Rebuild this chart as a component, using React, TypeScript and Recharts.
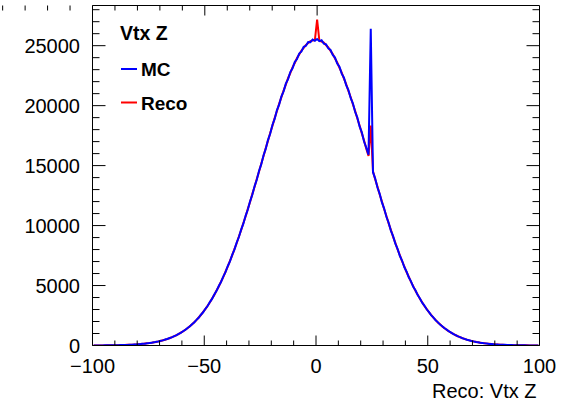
import { LineChart, Line, XAxis, YAxis, Legend } from 'recharts'

// histogram binning: 200 bins of width 1 from -100 to 100
const BIN_LOW = -100
const BIN_WIDTH = 1

// MC: Vtx Z counts per bin (left edge -100 ... 99)
const mcCounts = [
  4, 7, 5, 9, 8, 11, 12, 16, 17, 22,
  25, 27, 35, 37, 46, 50, 62, 67, 81, 89,
  108, 117, 141, 155, 184, 201, 237, 262, 306, 335,
  390, 427, 495, 541, 622, 681, 776, 849, 966, 1051,
  1191, 1295, 1458, 1583, 1771, 1920, 2140, 2315, 2568, 2770,
  3058, 3290, 3620, 3885, 4251, 4553, 4960, 5296, 5745, 6118,
  6610, 7019, 7556, 7994, 8571, 9046, 9662, 10160, 10815, 11339,
  12021, 12565, 13270, 13825, 14548, 15102, 15840, 16390, 17125, 17660,
  18390, 18895, 19610, 20080, 20760, 21190, 21835, 22210, 22800, 23115,
  23640, 23890, 24350, 24520, 24910, 24990, 25300, 25280, 25520, 25410,
  25560, 25380, 25450, 25170, 25110, 24770, 24640, 24220, 24010, 23510,
  23240, 22670, 22330, 21710, 21300, 20640, 20190, 19490, 19010, 18270,
  17770, 17010, 16490, 15900, 26400, 14450, 13920, 13170, 12650, 11930,
  11420, 10730, 10240, 9580, 9120, 8495, 8060, 7480, 7085, 6545,
  6170, 5690, 5345, 4905, 4600, 4200, 3925, 3575, 3330, 3020,
  2800, 2535, 2345, 2110, 1950, 1745, 1608, 1432, 1318, 1170,
  1070, 946, 866, 760, 695, 607, 555, 480, 438, 379,
  344, 296, 269, 229, 208, 177, 161, 135, 122, 103,
  93, 77, 70, 58, 53, 44, 39, 32, 29, 23,
  20, 19, 14, 13, 10, 10, 7, 7, 5, 6,
]

// Reco: Vtx Z counts per bin
const recoCounts = [
  6, 5, 7, 7, 9, 9, 14, 14, 18, 20,
  23, 29, 32, 39, 44, 53, 59, 70, 78, 92,
  103, 122, 136, 160, 178, 208, 230, 268, 297, 344,
  380, 438, 482, 553, 609, 694, 763, 865, 950, 1070,
  1172, 1312, 1440, 1601, 1750, 1940, 2115, 2335, 2542, 2795,
  3030, 3318, 3590, 3912, 4220, 4580, 4925, 5330, 5705, 6150,
  6570, 7055, 7510, 8035, 8525, 9090, 9610, 10210, 10760, 11390,
  11965, 12620, 13210, 13880, 14490, 15160, 15775, 16450, 17060, 17725,
  18315, 18960, 19530, 20150, 20685, 21260, 21750, 22285, 22715, 23190,
  23560, 23970, 24270, 24600, 24820, 25070, 25215, 25380, 25435, 25470,
  27170, 25430, 25340, 25250, 25040, 24850, 24560, 24300, 23930, 23595,
  23150, 22750, 22250, 21790, 21230, 20720, 20115, 19565, 18930, 18350,
  17690, 17090, 16415, 15810, 18330, 14520, 13845, 13245, 12585, 12000,
  11355, 10795, 10180, 9645, 9060, 8555, 8005, 7540, 7030, 6595,
  6125, 5735, 5300, 4950, 4560, 4240, 3890, 3610, 3295, 3050,
  2775, 2560, 2320, 2135, 1925, 1765, 1588, 1452, 1300, 1185,
  1055, 962, 852, 775, 682, 620, 542, 493, 428, 388,
  336, 304, 262, 236, 202, 183, 156, 140, 118, 107,
  89, 80, 68, 61, 51, 46, 37, 34, 27, 25,
  21, 17, 16, 12, 11, 8, 8, 6, 6, 4,
]

const xTicks = [-100, -90, -80, -70, -60, -50, -40, -30, -20, -10, 0, 10, 20, 30, 40, 50, 60, 70, 80, 90, 100]
const xMajor = [-100, -50, 0, 50, 100]
const yTicks = [
  0, 1000, 2000, 3000, 4000, 5000, 6000, 7000, 8000, 9000, 10000,
  11000, 12000, 13000, 14000, 15000, 16000, 17000, 18000, 19000, 20000,
  21000, 22000, 23000, 24000, 25000, 26000, 27000, 28000,
]
const yMajor = [0, 5000, 10000, 15000, 20000, 25000]

const FONT = '"Liberation Sans", Arial, Helvetica, sans-serif'
const FRAME = '#000'

// one point per bin, placed at the bin centre
const rows = mcCounts.map((mc, i) => ({
  x: BIN_LOW + (i + 0.5) * BIN_WIDTH,
  mc,
  reco: recoCounts[i],
}))

const fmt = (v: number) => (v < 0 ? '\u2212' + Math.abs(v) : String(v))

function BottomTick({ x, y, payload }: any) {
  const major = xMajor.includes(payload.value)
  return (
    <g>
      <line x1={x} x2={x} y1={y} y2={y - (major ? 10 : 5)} stroke={FRAME} />
      {major && (
        <text x={x} y={y + 27.5} textAnchor="middle" fontSize={20} fontFamily={FONT} fill="#000">
          {fmt(payload.value)}
        </text>
      )}
    </g>
  )
}

function TopTick({ x, y, payload }: any) {
  const major = xMajor.includes(payload.value)
  return <line x1={x} x2={x} y1={y} y2={y + (major ? 10 : 5)} stroke={FRAME} />
}

function LeftTick({ x, y, payload }: any) {
  const major = yMajor.includes(payload.value)
  return (
    <g>
      <line x1={x} x2={x + (major ? 13 : 7)} y1={y} y2={y} stroke={FRAME} />
      {major && (
        <text x={x - 12.5} y={y + 7} textAnchor="end" fontSize={20} fontFamily={FONT} fill="#000">
          {payload.value}
        </text>
      )}
    </g>
  )
}

function RightTick({ x, y, payload }: any) {
  const major = yMajor.includes(payload.value)
  return <line x1={x} x2={x - (major ? 13 : 7)} y1={y} y2={y} stroke={FRAME} />
}

function HistLegend({ payload }: any) {
  const order = ['MC', 'Reco']
  const items = order.map(n => (payload || []).find((p: any) => p.value === n)).filter(Boolean)
  return (
    <svg width={200} height={120} style={{ display: 'block' }}>
      <text x={120} y={40} fontSize={19.5} fontWeight="bold" fontFamily={FONT} fill="#000">Vtx Z</text>
      {items.map((p: any, i: number) => {
        const cy = 69 + i * 33.5
        return (
          <g key={p.value}>
            <line x1={121} x2={137} y1={cy} y2={cy} stroke={p.color} strokeWidth={2} />
            <text x={141} y={cy + 7} fontSize={19} fontWeight="bold" fontFamily={FONT} fill="#000">
              {p.value}
            </text>
          </g>
        )
      })}
    </svg>
  )
}

export default function App() {
  return (
    <div style={{ width: 571, height: 403, background: '#fff' }}>
      <style>{'body{margin:0;background:#fff}'}</style>
      <LineChart width={571} height={403} data={rows} margin={{ top: 0, right: 0, bottom: 0, left: 0 }}>
        <XAxis
          dataKey="x"
          type="number"
          domain={[-100, 100]}
          ticks={xTicks}
          interval={0}
          height={57.5}
          tickSize={0}
          tickMargin={0}
          tick={<BottomTick />}
          axisLine={{ stroke: FRAME }}
          allowDataOverflow
          label={{
            content: ({ viewBox }: any) => (
              <text
                x={viewBox.x + viewBox.width - 3}
                y={viewBox.y + 52}
                textAnchor="end"
                fontSize={20}
                fontFamily={FONT}
                fill="#000"
              >
                Reco: Vtx Z
              </text>
            ),
          }}
        />
        <XAxis
          xAxisId="top"
          orientation="top"
          type="number"
          domain={[-100, 100]}
          ticks={xTicks}
          interval={0}
          height={5.5}
          tickSize={0}
          tickMargin={0}
          tick={<TopTick />}
          axisLine={{ stroke: FRAME }}
          allowDataOverflow
        />
        <YAxis
          type="number"
          domain={[0, 28350]}
          ticks={yTicks}
          interval={0}
          width={92.5}
          tickSize={0}
          tickMargin={0}
          tick={<LeftTick />}
          axisLine={{ stroke: FRAME }}
          allowDataOverflow
        />
        <YAxis
          yAxisId="right"
          orientation="right"
          type="number"
          domain={[0, 28350]}
          ticks={yTicks}
          interval={0}
          width={31.5}
          tickSize={0}
          tickMargin={0}
          tick={<RightTick />}
          axisLine={{ stroke: FRAME }}
          allowDataOverflow
        />
        <Legend
          layout="vertical"
          align="center"
          verticalAlign="middle"
          wrapperStyle={{ left: 0, top: 0, width: 200, height: 120 }}
          content={<HistLegend />}
        />
        <Line
          name="Reco"
          dataKey="reco"
          type="linear"
          stroke="#ff0000"
          strokeWidth={2}
          dot={false}
          activeDot={false}
          isAnimationActive={false}
        />
        <Line
          name="MC"
          dataKey="mc"
          type="linear"
          stroke="#0000ff"
          strokeWidth={2}
          dot={false}
          activeDot={false}
          isAnimationActive={false}
        />
      </LineChart>
    </div>
  )
}
